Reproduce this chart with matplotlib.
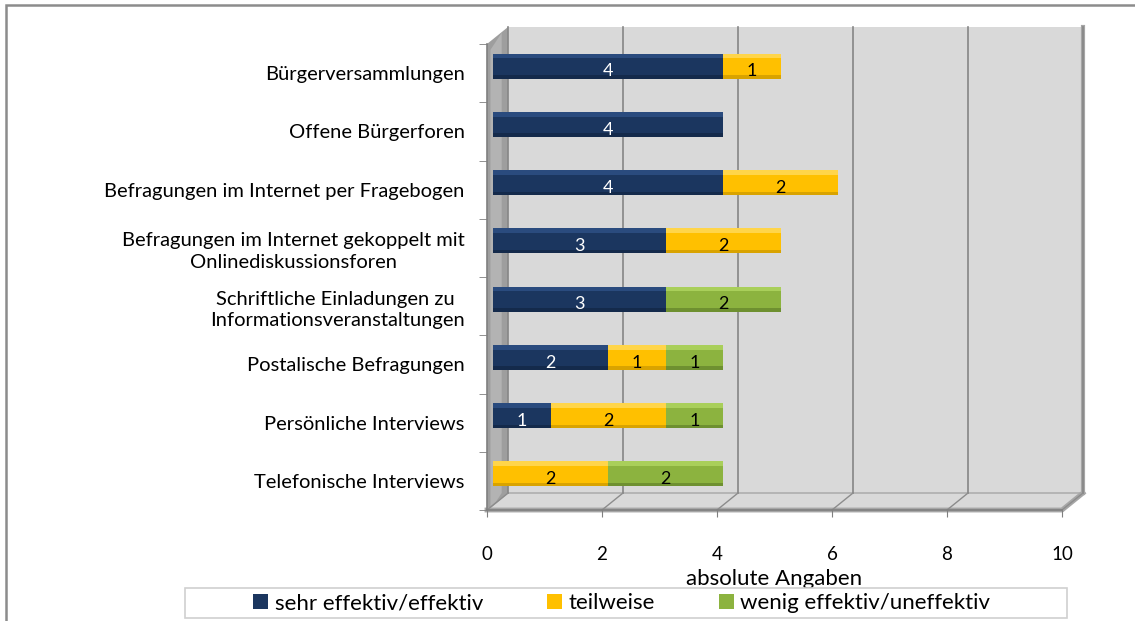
import matplotlib
matplotlib.use("Agg")
import matplotlib.pyplot as plt
import matplotlib.transforms as mtransforms
from matplotlib.patches import Polygon, Rectangle
import numpy as np

plt.rcParams['font.family'] = ['Lato', 'DejaVu Sans']

categories = [
    "Bürgerversammlungen",
    "Offene Bürgerforen",
    "Befragungen im Internet per Fragebogen",
    "Befragungen im Internet gekoppelt mit\nOnlinediskussionsforen",
    "Schriftliche Einladungen zu \nInformationsveranstaltungen",
    "Postalische Befragungen",
    "Persönliche Interviews",
    "Telefonische Interviews",
]
series_names = ["sehr effektiv/effektiv", "teilweise", "wenig effektiv/uneffektiv"]
sehr_effektiv = [4, 4, 4, 3, 3, 2, 1, 0]
teilweise = [1, 0, 2, 2, 0, 1, 2, 2]
wenig_effektiv = [0, 0, 0, 0, 2, 1, 1, 2]
x_ticks = [0, 2, 4, 6, 8, 10]
x_label = "absolute Angaben"

colors = ["#1B365F", "#FFC000", "#8CB33F"]
tops = ["#2A4B7E", "#FFD54A", "#A9CF5A"]
ends = ["#142A4B", "#D9A300", "#6E9030"]
text_colors = ["white", "black", "black"]

W, H = 1135, 621
fig = plt.figure(figsize=(W / 100, H / 100), dpi=100)

# outer frame
fig.patches.append(Rectangle((6 / W, -0.05), 1.2, (H - 5) / H + 0.05, transform=fig.transFigure,
                             fill=False, edgecolor="#8C8C8C", linewidth=1.8, zorder=0))

ax = fig.add_axes([487 / W, (H - 510) / H, 575 / W, 466 / H])
n = len(categories)
ax.set_xlim(0, 10)
ax.set_ylim(n - 0.5, -0.5)
ax.patch.set_visible(False)
for s in ["top", "right"]:
    ax.spines[s].set_visible(False)
ax.spines["left"].set_color("#7F7F7F")
ax.spines["bottom"].set_color("#7F7F7F")
ax.spines["left"].set_linewidth(1.2)
ax.spines["bottom"].set_linewidth(1.2)

# depth offset in data units
DX = 21 / 57.5
DY = -17 / 58.25
y0, y1 = -0.5, n - 0.5

# back wall
ax.add_patch(Polygon([(DX, y0 + DY), (10 + DX, y0 + DY), (10 + DX, y1 + DY), (DX, y1 + DY)],
                     closed=True, facecolor="#D9D9D9", edgecolor="none", zorder=0, clip_on=False))
# right wall edge
ax.plot([10 + DX, 10 + DX], [y0 + DY, y1 + DY], color="#A6A6A6", lw=3, zorder=0.5, clip_on=False)
# left side wall
ax.add_patch(Polygon([(0, y0), (DX, y0 + DY), (DX, y1 + DY), (0, y1)],
                     closed=True, facecolor="#9E9E9E", edgecolor="none", zorder=0.6, clip_on=False))
ax.add_patch(Polygon([(0.06, y0 + 0.1), (DX * 0.7, y0 + DY + 0.1), (DX * 0.7, y1 + DY), (0.06, y1)],
                     closed=True, facecolor="#B3B3B3", edgecolor="none", zorder=0.61, clip_on=False))
# floor
ax.add_patch(Polygon([(0, y1), (10, y1), (10 + DX, y1 + DY), (DX, y1 + DY)],
                     closed=True, facecolor="#D9D9D9", edgecolor="#A6A6A6", lw=1, zorder=0.7, clip_on=False))
ax.plot([0, 10, 10 + DX], [y1, y1, y1 + DY], color="#A6A6A6", lw=3.5, zorder=0.8, clip_on=False)
# gridlines
for xv in x_ticks:
    ax.plot([xv + DX, xv + DX], [y0 + DY, y1 + DY], color="#868686", lw=1.2, zorder=0.9, clip_on=False)
    ax.plot([xv, xv + DX], [y1, y1 + DY], color="#8C8C8C", lw=1.0, zorder=0.9, clip_on=False)

# bars with mid-depth offset
off = mtransforms.ScaledTranslation(6 / 100, 7 / 100, fig.dpi_scale_trans)
tr = ax.transData + off
ypos = np.arange(n)
bh = 0.43
left = np.zeros(n)
all_vals = [sehr_effektiv, teilweise, wenig_effektiv]
for vals, c, tc, ec, tcol, name in zip(all_vals, colors, tops, ends, text_colors, series_names):
    vals = np.array(vals, dtype=float)
    ax.barh(ypos, vals, left=left, height=bh, color=c, edgecolor="none",
            transform=tr, zorder=2, label=name)
    ax.barh(ypos - bh / 2 + 0.04, vals, left=left, height=0.08, color=tc, edgecolor="none",
            transform=tr, zorder=2.1)
    ax.barh(ypos + bh / 2 - 0.03, vals, left=left, height=0.06, color=ec, edgecolor="none",
            transform=tr, zorder=2.1)
    for i, v in enumerate(vals):
        if v > 0:
            ax.text(left[i] + v / 2, ypos[i] + 0.09, f"{int(v)}", ha="center", va="center",
                    color=tcol, fontsize=13, transform=tr, zorder=3)
    left = left + vals

ax.set_xticks(x_ticks)
ax.set_xticklabels([str(t) for t in x_ticks], fontsize=13.5)
ax.tick_params(axis="x", length=5, color="#7F7F7F", pad=21)
ax.set_yticks(ypos)
ax.set_yticklabels(categories, fontsize=14.5, multialignment="center", linespacing=1.3)
ax.tick_params(axis="y", which="major", length=0, pad=16)
ax.set_yticks(np.arange(-0.5, n, 1.0), minor=True)
ax.tick_params(axis="y", which="minor", length=6, color="#7F7F7F")
ax.set_xlabel(x_label, fontsize=16, labelpad=4)

# legend
fig.patches.append(Rectangle((185 / W, (H - 618) / H), 882 / W, 30 / H, transform=fig.transFigure,
                             facecolor="white", edgecolor="#D0D0D0", linewidth=1.2, zorder=1))
handles, labels = ax.get_legend_handles_labels()
leg = fig.legend(handles, labels, loc="center", bbox_to_anchor=(0.548, (H - 603) / H), ncol=3,
                 frameon=False, fontsize=16, handlelength=0.65, handleheight=0.65,
                 handletextpad=0.3, columnspacing=2.9)

fig.savefig("out.png", dpi=100)
